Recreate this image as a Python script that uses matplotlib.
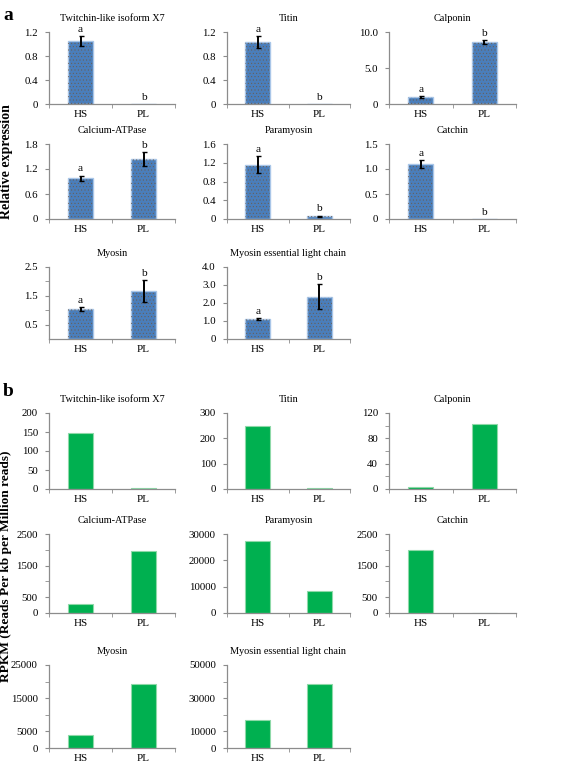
import numpy as np
import matplotlib
matplotlib.use('Agg')
import matplotlib.pyplot as plt

plt.rcParams['font.family'] = ['Liberation Serif', 'DejaVu Serif']
plt.rcParams['hatch.linewidth'] = 0.3

# gene names (same order in both panels)
genes = ['Twitchin-like isoform X7', 'Titin', 'Calponin',
         'Calcium-ATPase', 'Paramyosin', 'Catchin',
         'Myosin', 'Myosin essential light chain']
groups = ['HS', 'PL']

# panel a: qPCR relative expression
qpcr_hs = [1.05, 1.03, 0.95, 0.98, 1.16, 1.10, 1.04, 1.10]
qpcr_pl = [0.0, 0.0, 8.6, 1.44, 0.06, 0.0, 1.68, 2.35]
qpcr_hs_err = [0.08, 0.10, 0.10, 0.06, 0.18, 0.08, 0.07, 0.07]
qpcr_pl_err = [0.0, 0.0, 0.25, 0.17, 0.01, 0.0, 0.38, 0.70]
letters_hs = ['a', 'a', 'a', 'a', 'a', 'a', 'a', 'a']
letters_pl = ['b', 'b', 'b', 'b', 'b', 'b', 'b', 'b']

qpcr_ticks = [[0, 0.4, 0.8, 1.2], [0, 0.4, 0.8, 1.2], [0, 5, 10],
              [0, 0.6, 1.2, 1.8], [0, 0.4, 0.8, 1.2, 1.6], [0, 0.5, 1.0, 1.5],
              [0.5, 1.5, 2.5], [0, 1, 2, 3, 4]]
qpcr_ticklabels = [['0', '0.4', '0.8', '1.2'], ['0', '0.4', '0.8', '1.2'], ['0', '5.0', '10.0'],
                   ['0', '0.6', '1.2', '1.8'], ['0', '0.4', '0.8', '1.2', '1.6'], ['0', '0.5', '1.0', '1.5'],
                   ['0.5', '1.5', '2.5'], ['0', '1.0', '2.0', '3.0', '4.0']]
qpcr_minor = [[], [], [], [], [], [], [1.0, 2.0], []]
qpcr_ymax = [1.2, 1.2, 10, 1.8, 1.6, 1.5, 2.5, 4.0]

# panel b: RPKM
rpkm_hs = [148, 250, 3, 290, 27400, 2000, 3800, 16600]
rpkm_pl = [3, 2, 102, 1970, 8200, 5, 19200, 38800]

rpkm_ticks = [[0, 50, 100, 150, 200], [0, 100, 200, 300], [0, 40, 80, 120],
              [0, 500, 1500, 2500], [0, 10000, 20000, 30000], [0, 500, 1500, 2500],
              [0, 5000, 15000, 25000], [0, 10000, 30000, 50000]]
rpkm_minor = [[], [], [20, 60, 100], [1000, 2000], [], [1000, 2000],
              [10000, 20000], [20000, 40000]]
rpkm_ymax = [200, 300, 120, 2500, 30000, 2500, 25000, 50000]

W, H = 567, 763
cols = [(49, 175), (227, 350), (389, 516)]
rows_a = [(32, 104), (144, 219), (267, 339)]
rows_b = [(413, 489), (534, 613), (665, 748)]

BLUE = '#4A7EBB'
BLUE_EDGE = '#A9C6E8'
GREEN = '#00B050'
GREEN_EDGE = '#8ED9A8'
SPINE = '#8C8C8C'


def add_ax(fig, col, row):
    x0, x1 = col
    yt, yb = row
    return fig.add_axes([x0 / W, 1 - yb / H, (x1 - x0) / W, (yb - yt) / H])


def style_ax(ax, title, ymax, ticks, labels, minor):
    x = np.arange(len(groups))
    ax.set_xlim(-0.5, 1.5)
    ax.set_ylim(0, ymax)
    ax.set_title(title, fontsize=7.4, pad=8)
    for s in ['top', 'right']:
        ax.spines[s].set_visible(False)
    for s in ['left', 'bottom']:
        ax.spines[s].set_color(SPINE)
        ax.spines[s].set_linewidth(0.9)
    ax.set_xticks(x)
    ax.set_xticklabels(groups, fontsize=8)
    ax.set_xticks([-0.5, 0.5, 1.5], minor=True)
    ax.tick_params(axis='x', which='major', length=0, pad=4)
    ax.tick_params(axis='x', which='minor', length=3, color=SPINE, direction='out')
    ax.set_yticks(ticks)
    ax.set_yticklabels(labels, fontsize=7.8)
    ax.set_yticks(minor, minor=True)
    ax.tick_params(axis='y', which='both', length=3, color=SPINE, direction='out', pad=5)


fig = plt.figure(figsize=(5.67, 7.63), dpi=100)

# panel a
for i, gene in enumerate(genes):
    ax = add_ax(fig, cols[i % 3], rows_a[i // 3])
    x = np.arange(len(groups))
    vals = [qpcr_hs[i], qpcr_pl[i]]
    errs = [qpcr_hs_err[i], qpcr_pl_err[i]]
    ax.bar(x, vals, width=0.4, color=BLUE, edgecolor=BLUE_EDGE, linewidth=1, zorder=2)
    ax.bar(x, vals, width=0.4, fill=False, hatch='.....', edgecolor='#6E5A48', linewidth=0, zorder=3)
    for xi, v, e in zip(x, vals, errs):
        if e > 0:
            ax.errorbar(xi, v, yerr=e, color='black', capsize=1.8, elinewidth=1.4,
                        capthick=1, zorder=4)
    for xi, v, e, lab in zip(x, vals, errs, [letters_hs[i], letters_pl[i]]):
        ax.text(xi, v + e + qpcr_ymax[i] * 0.03, lab, ha='center', va='bottom',
                fontsize=8.2, zorder=5)
    style_ax(ax, gene, qpcr_ymax[i], qpcr_ticks[i], qpcr_ticklabels[i], qpcr_minor[i])

# panel b
for i, gene in enumerate(genes):
    ax = add_ax(fig, cols[i % 3], rows_b[i // 3])
    x = np.arange(len(groups))
    vals = [rpkm_hs[i], rpkm_pl[i]]
    ax.bar(x, vals, width=0.4, color=GREEN, edgecolor=GREEN_EDGE, linewidth=0.8, zorder=2)
    style_ax(ax, gene, rpkm_ymax[i], rpkm_ticks[i], [str(t) for t in rpkm_ticks[i]], rpkm_minor[i])

fig.text(8 / W, 1 - 15 / H, 'a', fontsize=14, fontweight='bold', ha='center', va='center')
fig.text(8 / W, 1 - 392 / H, 'b', fontsize=14, fontweight='bold', ha='center', va='center')
fig.text(6.5 / W, 1 - 162 / H, 'Relative expression', rotation=90, fontsize=10,
         fontweight='bold', ha='center', va='center')
fig.text(6.5 / W, 1 - 566 / H, 'RPKM (Reads Per kb per Million reads)', rotation=90,
         fontsize=9.6, fontweight='bold', ha='center', va='center')

fig.savefig('out.png', dpi=100)
